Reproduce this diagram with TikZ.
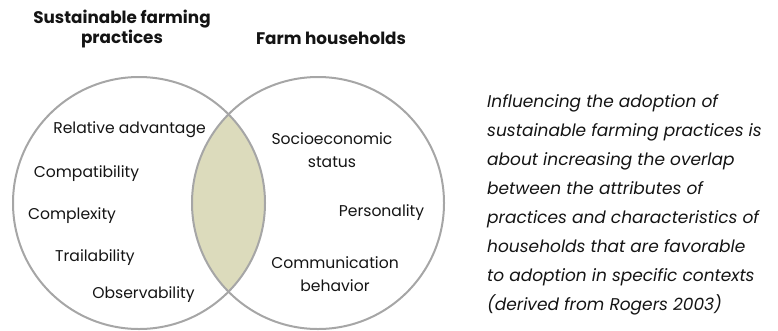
\documentclass[tikz,border=0pt]{standalone}
\usepackage{fontspec}
\setmainfont{Poppins}
\definecolor{ringgray}{RGB}{166,166,166}
\definecolor{overlapfill}{RGB}{220,219,188}
\definecolor{inkblack}{RGB}{20,20,20}

\begin{document}
\begin{tikzpicture}[x=1pt,y=-1pt,
  heading/.style={font=\fontsize{16.8}{18}\selectfont\bfseries,align=center,inner sep=0pt,text=inkblack},
  attribute/.style={font=\fontsize{15.6}{23}\selectfont,align=center,inner sep=0pt,text=inkblack},
  ring/.style={draw=ringgray,line width=2pt}]
\useasboundingbox (0,0) rectangle (778,330);
% Centres of the two sets
\coordinate (practices) at (139,203);
\coordinate (households) at (318,203);
% The shared part
\begin{scope}
  \clip (practices) circle (126pt);
  \fill[overlapfill] (households) circle (126pt);
\end{scope}
% The two circles
\draw[ring] (practices) circle (126pt);
\draw[ring] (households) circle (126pt);

% Headings
\node[heading] (practicestitle) at (122,29) {Sustainable farming\\practices};
\node[heading] (householdstitle) at (331,38) {Farm households};

% Attributes of practices
\node[attribute] (advantage) at (129.5,130) {Relative advantage};
\node[attribute] (compatibility) at (86.5,174) {Compatibility};
\node[attribute] (complexity) at (72,216) {Complexity};
\node[attribute] (trialability) at (95,258) {Trailability};
\node[attribute] (observability) at (143.5,295) {Observability};

% Characteristics of households
\node[attribute] (status) at (332,150) {Socioeconomic\\status};
\node[attribute] (personality) at (381.5,213) {Personality};
\node[attribute] (communication) at (335,274) {Communication\\behavior};

% Note
\node[anchor=north west,align=left,inner sep=0pt,text=inkblack,
  font=\fontsize{17}{29}\selectfont\itshape] (note) at (487,94)
  {Influencing the adoption of\\
   sustainable farming practices is\\
   about increasing the overlap\\
   between the attributes of\\
   practices and characteristics of\\
   households that are favorable\\
   to adoption in specific contexts\\
   (derived from Rogers 2003)};
\end{tikzpicture}
\end{document}
